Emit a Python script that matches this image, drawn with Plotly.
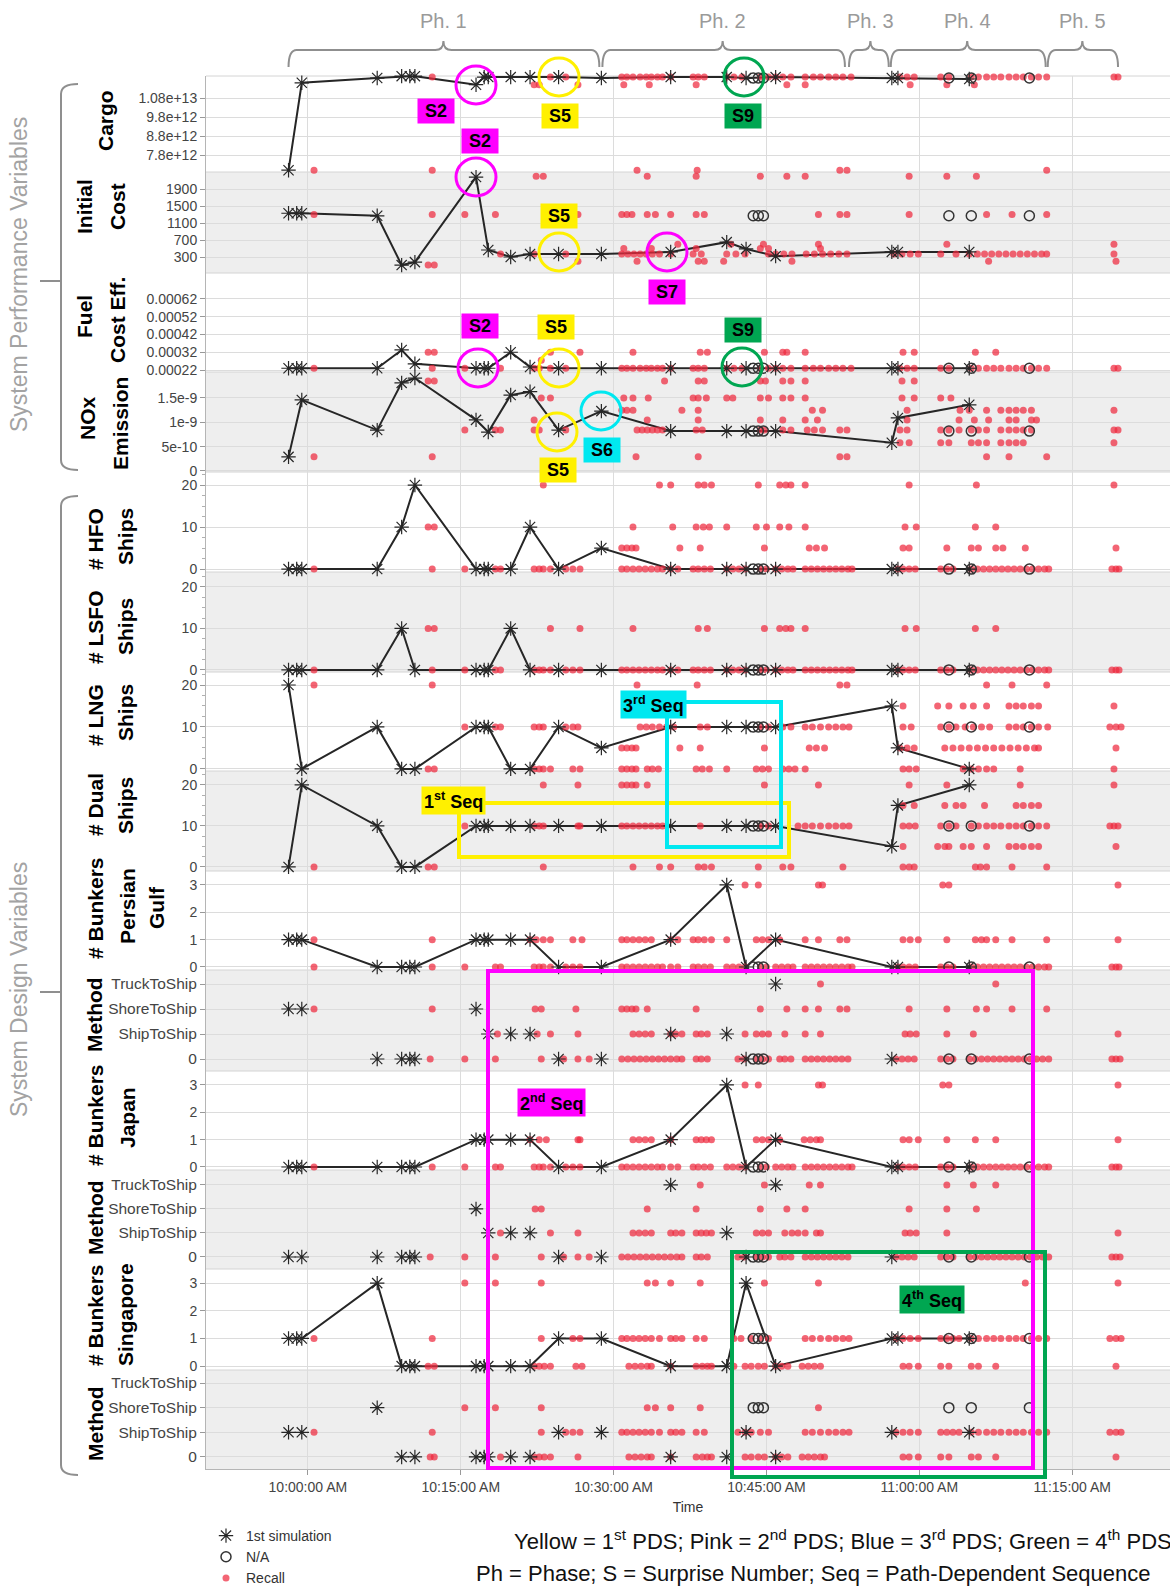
import plotly.graph_objects as go
from plotly.subplots import make_subplots

# ---------------------------------------------------------------------------
# Time axis: minutes after 10:00:00 AM
# ---------------------------------------------------------------------------
TIME_TICKS = [0, 15, 30, 45, 60, 75]
TIME_LABELS = ["10:00:00 AM", "10:15:00 AM", "10:30:00 AM",
               "10:45:00 AM", "11:00:00 AM", "11:15:00 AM"]
TIME_RANGE = [-10.0, 84.6]

# Session phases (braces along the top)
PHASE_NAMES = ["Ph. 1", "Ph. 2", "Ph. 3", "Ph. 4", "Ph. 5"]
PHASE_START = [-1.9, 28.9, 53.1, 57.2, 72.6]
PHASE_END = [28.6, 52.7, 57.0, 72.4, 79.5]
PHASE_MID = [13.3, 40.7, 55.2, 64.7, 76.0]

# ---------------------------------------------------------------------------
# 1st simulation: evaluation times and value of each variable
# ---------------------------------------------------------------------------
SIM_T = [-1.9, -1.1, -0.6, 6.8, 9.2, 10.0, 10.5, 16.5, 17.3, 17.7, 19.9,
         21.8, 24.6, 28.8, 35.6, 41.1, 43.0, 45.9, 57.3, 57.9, 64.9]

cargo_sim = [7.0, None, 11.6, 11.85, 11.95, 11.95, 11.95, 11.5, 11.9, 11.9, 11.9,
             11.9, 11.9, 11.85, 11.9, 11.9, 11.85, 11.9, 11.85, 11.85, 11.8]      # x 1e12
cost_sim = [1330, 1330, 1330, 1270, 110, None, 180, 2180, None, 465, 300,
            370, 370, 370, 420, 650, 490, 320, 420, 420, 420]
fuel_sim = [2.3, 2.3, 2.3, 2.3, 3.33, None, 2.55, 2.3, 2.3, 2.3, 3.2,
            2.37, 2.3, 2.3, 2.3, 2.3, 2.3, 2.3, 2.3, 2.3, 2.3]                   # x 1e-4
nox_sim = [0.29, None, 1.46, 0.84, 1.81, None, 1.91, 1.05, None, 0.80, 1.56,
           1.63, 0.84, 1.23, 0.82, 0.82, 0.82, 0.82, 0.58, 1.09, 1.36]          # x 1e-9
hfo_sim = [0, 0, 0, 0, 10, None, 20, 0, 0, 0, 0, 10, 0, 5, 0, 0, 0, 0, 0, 0, 0]
lsfo_sim = [0, 0, 0, 0, 10, None, 0, 0, 0, 0, 10, 0, 0, 0, 0, 0, 0, 0, 0, 0, 0]
lng_sim = [20, None, 0, 10, 0, None, 0, 10, 10, 10, 0, 0, 10, 5, 10, 10, 10, 10, 15, 5, 0]
dual_sim = [0, None, 20, 10, 0, None, 0, 10, 10, 10, 10, 10, 10, 10, 10, 10, 10, 10, 5, 15, 20]
pg_sim = [1, 1, 1, 0, 0, 0, 0, 1, 1, 1, 1, 1, 0, 0, 1, 3, 0, 1, 0, 0, 0]
pg_method_sim = [2, None, 2, 0, 0, 0, 0, 2, None, 1, 1, 1, 0, 0, 1, 1, 0, 3, 0, None, None]
jp_sim = [0, 0, 0, 0, 0, 0, 0, 1, 1, 1, 1, 1, 0, 0, 1, 3, 0, 1, 0, 0, 0]
jp_method_sim = [0, None, 0, 0, 0, 0, 0, 2, None, 1, 1, 1, 0, 0, 3, 1, 0, 3, 0, None, None]
sg_sim = [1, 1, 1, 3, 0, 0, 0, 0, 0, 0, 0, 0, 1, 1, 0, 0, 3, 0, 1, 1, 1]
sg_method_sim = [1, None, 1, 2, 0, None, 0, 0, 0, 0, 0, 0, 1, 1, 0, 0, 1, 0, 1, None, 1]

# Method codes: 0 = none, 1 = ShipToShip, 2 = ShoreToShip, 3 = TruckToShip
METHOD_LABELS = ["0", "ShipToShip", "ShoreToShip", "TruckToShip"]

# ---------------------------------------------------------------------------
# N/A evaluations
# ---------------------------------------------------------------------------
NA_T = [43.7, 44.2, 44.7, 62.9, 65.1, 70.8]
cargo_na = [11.85, 11.85, 11.85, 11.85, 11.85, 11.85]
cost_na = [1270, 1270, 1270, 1270, 1270, 1270]
fuel_na = [2.3, 2.3, 2.3, 2.3, 2.3, 2.3]
nox_na = [0.82, 0.82, 0.82, 0.82, 0.82, 0.82]
hfo_na = [0, 0, 0, 0, 0, 0]
lsfo_na = [0, 0, 0, 0, 0, 0]
lng_na = [10, 10, 10, 10, 10, 10]
dual_na = [10, 10, 10, 10, 10, 10]
pg_na = [0, 0, 0, 0, 0, 0]
pg_method_na = [0, 0, 0, 0, 0, 0]
jp_na = [0, 0, 0, 0, 0, 0]
jp_method_na = [0, 0, 0, 0, 0, 0]
sg_na = [1, 1, 1, 1, 1, 1]
sg_method_na = [2, 2, 2, 2, 2, 2]

# ---------------------------------------------------------------------------
# Recall: times (minutes) grouped by recalled value
# ---------------------------------------------------------------------------
RECALL_BASE = [0.6, 12.2, 15.4, 18.4, 18.9, 22.2, 22.7, 23.1, 23.8, 25.3, 26.0, 26.7,
               30.8, 31.3, 31.9, 32.5, 33.1, 33.7, 34.3, 34.8, 35.6, 36.3, 37.8, 38.3,
               38.9, 39.5, 41.1, 41.7, 42.3, 42.9, 44.4, 45.0, 45.9, 46.5, 47.1, 47.6,
               48.8, 49.4, 50.0, 50.6, 51.2, 51.8, 52.4, 53.0, 53.4, 57.9, 58.4, 59.0,
               59.6, 62.1, 62.7, 63.3, 65.1, 65.7, 66.3, 66.9, 67.5, 68.1, 68.7, 69.3,
               69.9, 70.5, 71.1, 71.7, 72.3, 72.7, 78.9, 79.3, 79.6]
RECALL_TOP = [12.2, 23.8, 25.3, 30.8, 31.3, 31.9, 32.6, 33.2, 33.7, 34.3, 34.8, 35.6,
              37.8, 38.3, 38.9, 41.1, 41.8, 42.6, 44.4, 45.2, 45.9, 46.6, 47.4, 48.8,
              49.6, 50.3, 51.1, 51.8, 52.5, 53.3, 58.1, 58.8, 59.5, 62.1, 62.9, 65.1,
              65.8, 66.6, 67.3, 68.0, 68.8, 69.5, 70.2, 71.0, 71.7, 72.5, 79.1, 79.5]
METHOD_BASE = [12.0, 15.4, 18.4, 22.9, 25.1, 26.5, 27.6, 30.8, 31.4, 32.0, 32.6, 33.2,
               33.8, 34.4, 35.0, 35.6, 36.2, 36.7, 38.1, 38.6, 39.2, 42.2, 42.8, 44.0,
               44.6, 45.2, 46.3, 46.8, 47.4, 48.8, 49.4, 50.0, 50.6, 51.2, 51.8, 52.4,
               53.0, 57.7, 58.3, 58.9, 59.5, 62.1, 62.7, 63.3, 64.9, 65.5, 66.1, 66.7,
               67.3, 67.9, 68.5, 69.1, 69.7, 70.3, 70.9, 71.5, 72.1, 72.7, 78.9, 79.3, 79.7]

cargo_recall = {
    11.9: RECALL_TOP,
    11.5: [22.2, 22.7, 26.5, 31.0, 33.5, 38.1, 47.0, 48.8, 59.1, 62.7, 65.4],
    7.0: [0.6, 12.2, 32.3, 38.2, 52.2, 52.9, 72.5],
}
cost_recall = {
    2200: [22.4, 23.1, 33.3, 38.1, 44.4, 47.0, 48.8, 59.0, 62.7, 65.6],
    1300: [0.6, 12.2, 15.4, 18.4, 26.5, 30.8, 31.3, 31.8, 33.3, 34.1, 35.6, 38.1, 38.9,
           50.1, 52.2, 52.9, 59.0, 66.6, 69.1, 72.5],
    600: [36.3, 41.5, 44.7, 50.1, 62.7, 79.1],
    500: [31.0, 33.7, 38.1, 44.4, 45.2, 50.3],
    370: [18.9, 22.2, 25.3, 30.8, 31.4, 32.0, 32.6, 33.2, 33.8, 34.5, 35.6, 37.8, 38.6,
          41.1, 42.0, 42.9, 45.2, 45.9, 46.7, 47.5, 48.9, 49.7, 50.5, 51.3, 52.1, 52.9,
          57.5, 58.3, 59.1, 59.9, 62.1, 63.6, 64.9, 65.7, 66.4, 67.1, 67.8, 68.5, 69.2,
          69.9, 70.6, 71.3, 72.0, 72.5, 79.1],
    200: [26.5, 32.3, 38.3, 38.9, 40.8, 47.5, 66.8, 79.3],
    110: [11.8, 12.4],
}
fuel_recall = {
    3.2: [11.8, 12.4, 23.8, 26.7, 31.9, 38.5, 39.2, 44.8, 46.6, 47.0, 48.8, 58.4, 59.5,
          65.5, 67.5],
    2.75: [22.9],
    2.3: [0.6, 15.4, 18.9, 22.2, 22.7] + RECALL_TOP,
}
nox_recall = {
    1.85: [11.8, 12.4, 35.0, 38.3, 38.9, 44.4, 44.9, 46.6, 47.4, 48.8, 58.3, 59.5],
    1.5: [22.9, 23.8, 31.0, 31.9, 33.4, 37.8, 38.3, 39.1, 41.1, 41.7, 44.4, 45.2, 46.6,
          47.4, 48.8, 58.3, 59.5, 62.1, 63.1],
    1.25: [30.8, 31.3, 31.9, 36.7, 38.3, 49.5, 50.5, 58.8, 64.0, 64.9, 66.6, 68.0, 68.8,
           69.5, 70.2, 71.0, 79.1],
    1.05: [22.2, 33.3, 38.3, 44.4, 46.6, 48.8, 50.0, 58.8, 63.9, 65.4, 66.8, 68.8, 69.5,
           71.0, 71.5],
    0.84: [15.4, 18.4, 18.9, 22.2, 22.7, 25.3, 32.3, 32.8, 33.3, 33.8, 34.3, 34.8, 38.1,
           38.7, 44.4, 44.8, 46.6, 47.4, 49.0, 49.7, 50.5, 52.2, 52.9, 58.1, 58.8, 62.1,
           62.9, 63.9, 65.1, 65.8, 66.6, 68.0, 68.8, 69.5, 70.2, 71.0, 79.1, 79.5],
    0.58: [58.1, 59.0, 62.1, 62.9, 65.1, 65.8, 66.6, 68.0, 68.8, 69.5, 70.2, 79.1],
    0.29: [0.6, 12.2, 32.2, 38.3, 52.2, 52.9, 66.6, 68.8, 72.5],
}
hfo_recall = {
    20: [23.1, 34.5, 35.6, 38.3, 38.9, 39.6, 44.2, 46.3, 46.9, 47.4, 48.8, 59.0, 65.6, 79.1],
    10: [11.8, 12.4, 31.9, 35.8, 38.1, 38.8, 39.4, 41.1, 44.0, 45.0, 46.3, 47.2, 48.8,
         58.6, 59.7, 65.5, 67.5],
    5: [30.8, 31.3, 31.8, 32.2, 36.5, 38.5, 44.8, 49.2, 49.9, 50.7, 58.4, 59.0, 62.7,
        65.1, 65.8, 67.5, 68.2, 70.4, 79.3],
    0: RECALL_BASE,
}
lsfo_recall = {
    10: [11.8, 12.4, 23.8, 26.7, 31.9, 38.3, 39.2, 44.8, 46.3, 46.9, 47.4, 48.8, 58.6,
         59.7, 65.5, 67.5],
    0: RECALL_BASE,
}
lng_recall = {
    20: [0.6, 12.2, 32.3, 38.2, 52.2, 52.9, 66.6, 69.1, 72.5],
    15: [58.4, 61.8, 62.9, 64.3, 65.3, 66.6, 68.8, 69.5, 70.2, 71.0, 71.7, 79.1],
    10: [15.4, 18.4, 18.9, 22.2, 22.7, 23.1, 25.3, 26.0, 26.5, 32.6, 33.2, 33.8, 34.5,
         35.2, 35.9, 38.5, 39.2, 44.4, 45.2, 46.6, 47.4, 48.8, 49.5, 50.3, 51.1, 51.8,
         52.5, 53.1, 58.4, 59.2, 62.1, 62.9, 63.6, 64.5, 65.3, 66.1, 66.9, 68.8, 69.5,
         70.2, 71.0, 71.7, 72.6, 78.7, 79.3, 79.8],
    5: [30.8, 31.3, 31.8, 32.2, 36.5, 38.5, 44.8, 49.2, 49.9, 50.7, 58.1, 58.8, 59.5,
        62.5, 63.3, 64.1, 64.9, 65.7, 66.5, 67.3, 68.1, 68.9, 69.7, 70.5, 71.3, 71.7, 79.3],
    0: [11.8, 12.4, 22.2, 22.7, 23.1, 23.8, 26.0, 26.7, 30.8, 31.3, 31.8, 32.2, 33.3,
        33.8, 34.4, 38.1, 38.7, 39.4, 41.1, 44.0, 44.6, 45.2, 46.6, 47.2, 47.8, 48.8,
        58.4, 59.0, 59.7, 64.3, 65.1, 65.8, 66.6, 67.3, 69.9, 79.1],
}
dual_recall = {
    20: [23.1, 26.5, 30.8, 31.3, 31.8, 32.2, 33.3, 44.8, 50.1, 59.0, 62.7, 69.9, 79.1],
    15: [58.4, 59.5, 62.5, 63.6, 64.3, 66.4, 69.5, 70.2, 71.0, 71.7],
    10: [15.4, 22.2, 22.7, 23.1, 26.5, 26.7, 30.8, 31.3, 31.9, 32.5, 33.1, 33.7, 34.3,
         34.8, 38.5, 44.4, 45.2, 48.1, 48.8, 49.5, 50.3, 51.1, 51.8, 52.5, 53.1, 58.4,
         59.0, 59.6, 62.1, 62.9, 63.6, 65.1, 65.8, 66.6, 67.3, 68.0, 68.8, 69.5, 70.2,
         71.0, 71.7, 72.5, 78.7, 79.1, 79.5],
    5: [58.4, 61.8, 62.5, 62.9, 64.3, 65.1, 66.6, 68.8, 69.5, 70.2, 71.0, 71.7, 79.3],
    0: [0.6, 11.8, 12.4, 23.1, 31.9, 34.5, 35.6, 38.3, 38.9, 39.6, 44.2, 46.6, 47.4,
        52.5, 58.4, 59.0, 59.5, 65.5, 66.0, 66.6, 69.1, 72.5],
}
pg_recall = {
    3: [42.9, 44.2, 50.1, 50.5, 62.3, 62.9, 79.5],
    1: [0.6, 12.2, 21.8, 22.4, 23.1, 23.8, 26.0, 26.9, 30.8, 31.3, 31.9, 32.5, 33.1,
        33.7, 35.6, 36.3, 37.8, 38.3, 38.9, 39.6, 41.1, 44.0, 44.6, 45.2, 46.3, 48.8,
        50.1, 52.2, 52.9, 58.4, 59.1, 59.9, 62.7, 65.5, 66.1, 66.6, 67.5, 69.1, 72.5, 79.5],
    0: RECALL_BASE,
}
pg_method_recall = {
    3: [50.3, 67.5],
    2: [0.6, 12.2, 22.3, 22.9, 26.3, 30.8, 31.3, 31.8, 32.2, 33.3, 38.1, 44.4, 47.0,
        48.8, 50.1, 52.2, 52.9, 59.0, 62.7, 65.6, 66.6, 69.1, 72.5],
    1: [18.6, 22.5, 23.8, 26.5, 31.9, 32.5, 33.1, 33.7, 35.6, 36.1, 36.7, 38.1, 38.6,
        39.2, 42.9, 44.0, 44.6, 45.2, 46.8, 48.8, 50.3, 58.6, 59.1, 59.7, 62.7, 65.3, 79.5],
    0: METHOD_BASE,
}
jp_recall = {
    3: [42.9, 44.2, 50.1, 50.5, 62.3, 62.9, 79.5],
    1: [21.8, 22.7, 23.4, 26.5, 26.7, 31.9, 32.5, 33.1, 33.7, 35.6, 38.1, 38.6, 39.1,
        39.6, 44.0, 44.6, 45.2, 46.3, 48.7, 49.3, 49.9, 50.3, 58.4, 59.0, 59.9, 62.7,
        65.5, 67.5, 79.5],
    0: RECALL_BASE,
}
jp_method_recall = {
    3: [38.5, 44.8, 49.2, 50.3, 62.7, 65.3, 67.5],
    2: [22.3, 22.9, 33.3, 38.1, 44.4, 47.0, 48.8, 59.0, 62.7, 65.6],
    1: [18.9, 23.8, 26.5, 31.9, 32.5, 33.1, 33.7, 35.6, 36.1, 36.7, 38.1, 38.6, 39.1,
        39.6, 44.0, 44.6, 45.2, 46.8, 47.5, 48.1, 48.8, 49.9, 50.3, 58.6, 59.1, 59.7,
        62.7, 79.5],
    0: METHOD_BASE,
}
sg_recall = {
    3: [15.4, 18.4, 22.9, 33.3, 34.1, 35.6, 38.5, 44.8, 50.1, 70.4, 79.5],
    1: [0.6, 12.2, 22.9, 26.0, 26.7, 30.8, 31.3, 31.9, 32.5, 33.1, 33.7, 34.5, 35.6,
        36.1, 36.7, 38.1, 38.9, 41.8, 42.5, 43.5, 44.4, 45.2, 48.8, 49.5, 50.3, 51.1,
        51.8, 52.5, 53.1, 57.7, 58.4, 59.1, 59.9, 62.1, 62.7, 63.3, 63.9, 65.1, 65.8,
        66.6, 67.3, 68.0, 68.8, 69.5, 70.2, 71.0, 71.7, 72.5, 78.7, 79.3, 79.8],
    0: [11.8, 12.4, 22.2, 22.7, 23.2, 23.8, 26.3, 26.9, 31.5, 32.1, 32.7, 33.3, 33.7,
        35.6, 38.1, 38.7, 39.2, 39.6, 41.8, 42.9, 43.5, 44.2, 44.8, 45.9, 46.5, 47.1,
        48.5, 49.1, 49.7, 50.3, 58.4, 59.0, 59.9, 62.1, 62.9, 65.1, 65.8, 67.5, 79.3],
}
sg_method_recall = {
    2: [15.4, 18.4, 22.9, 33.3, 34.1, 35.6, 38.5, 50.1],
    1: [0.6, 12.2, 22.9, 25.3, 26.0, 26.7, 30.8, 31.3, 31.9, 32.5, 33.1, 33.7, 34.5,
        35.6, 36.1, 36.7, 38.1, 38.9, 42.2, 42.9, 43.5, 44.4, 45.2, 48.8, 49.5, 50.3,
        51.1, 51.8, 52.5, 53.1, 57.7, 58.4, 59.1, 59.9, 62.1, 62.7, 63.3, 63.9, 65.1,
        65.8, 66.6, 67.3, 68.0, 68.8, 69.5, 70.2, 71.0, 71.7, 72.5, 78.7, 79.3, 79.8],
    0: [12.0, 12.4, 18.9, 22.2, 22.7, 23.2, 23.8, 26.5, 31.5, 32.1, 32.7, 33.3, 33.7,
        35.6, 38.1, 38.7, 39.2, 39.6, 42.9, 43.5, 44.2, 44.8, 45.9, 46.5, 47.1, 48.5,
        49.1, 49.7, 50.3, 50.7, 58.4, 59.0, 59.9, 62.1, 62.9, 65.1, 65.8, 67.5, 79.3],
}

# ---------------------------------------------------------------------------
# Page geometry (pixels) and helpers to place decorations in paper space
# ---------------------------------------------------------------------------
W, H = 1170, 1589
ML, MR, MT, MB = 206, 0, 76, 120
ROW_EDGES = [76, 172, 273, 372, 472, 572, 672, 771, 871, 970, 1071, 1170, 1269, 1370, 1469]


def px(x):
    return (x - ML) / (W - ML - MR)


def py(y):
    return (H - MB - y) / (H - MT - MB)


FONT = "Liberation Sans"
TICK_FONT = dict(family=FONT, size=14, color="#444444")
METHOD_TICK_FONT = dict(family=FONT, size=15.5, color="#444444")
RED = "rgba(238, 42, 62, 0.72)"
INK = "#262626"
GRAY_BAND = "#eeeeee"
GRID = "#dcdcdc"

SHIP_TICKS = [0, 10, 20]
BUNKER_TICKS = [0, 1, 2, 3]
METHOD_TICKS = [0, 1, 2, 3]

PANELS = [
    dict(sim=cargo_sim, rec=cargo_recall, na=cargo_na, rng=[6.905, 11.958],
         tv=[7.8, 8.8, 9.8, 10.8], tt=["7.8e+12", "8.8e+12", "9.8e+12", "1.08e+13"],
         shade=False, line=True, minor=None),
    dict(sim=cost_sim, rec=cost_recall, na=cost_na, rng=[-76, 2300],
         tv=[300, 700, 1100, 1500, 1900], tt=["300", "700", "1100", "1500", "1900"],
         shade=True, line=True, minor=None),
    dict(sim=fuel_sim, rec=fuel_recall, na=fuel_na, rng=[2.09, 7.66],
         tv=[2.2, 3.2, 4.2, 5.2, 6.2],
         tt=["0.00022", "0.00032", "0.00042", "0.00052", "0.00062"],
         shade=False, line=True, minor=None),
    dict(sim=nox_sim, rec=nox_recall, na=nox_na, rng=[-0.021, 2.034],
         tv=[0, 0.5, 1.0, 1.5], tt=["0", "5e-10", "1e-9", "1.5e-9"],
         shade=True, line=True, minor=None),
    dict(sim=hfo_sim, rec=hfo_recall, na=hfo_na, rng=[-0.7, 23.1],
         tv=SHIP_TICKS, tt=[str(v) for v in SHIP_TICKS], shade=False, line=True, minor=2.5),
    dict(sim=lsfo_sim, rec=lsfo_recall, na=lsfo_na, rng=[-0.5, 23.6],
         tv=SHIP_TICKS, tt=[str(v) for v in SHIP_TICKS], shade=True, line=True, minor=2.5),
    dict(sim=lng_sim, rec=lng_recall, na=lng_na, rng=[-0.5, 23.1],
         tv=SHIP_TICKS, tt=[str(v) for v in SHIP_TICKS], shade=False, line=True, minor=2.5),
    dict(sim=dual_sim, rec=dual_recall, na=dual_na, rng=[-1.0, 23.4],
         tv=SHIP_TICKS, tt=[str(v) for v in SHIP_TICKS], shade=True, line=True, minor=2.5),
    dict(sim=pg_sim, rec=pg_recall, na=pg_na, rng=[-0.11, 3.51],
         tv=BUNKER_TICKS, tt=[str(v) for v in BUNKER_TICKS], shade=False, line=True, minor=None),
    dict(sim=pg_method_sim, rec=pg_method_recall, na=pg_method_na, rng=[-0.48, 3.56],
         tv=METHOD_TICKS, tt=METHOD_LABELS, shade=True, line=False, minor=None),
    dict(sim=jp_sim, rec=jp_recall, na=jp_na, rng=[-0.11, 3.51],
         tv=BUNKER_TICKS, tt=[str(v) for v in BUNKER_TICKS], shade=False, line=True, minor=None),
    dict(sim=jp_method_sim, rec=jp_method_recall, na=jp_method_na, rng=[-0.5, 3.62],
         tv=METHOD_TICKS, tt=METHOD_LABELS, shade=True, line=False, minor=None),
    dict(sim=sg_sim, rec=sg_recall, na=sg_na, rng=[-0.14, 3.51],
         tv=BUNKER_TICKS, tt=[str(v) for v in BUNKER_TICKS], shade=False, line=True, minor=None),
    dict(sim=sg_method_sim, rec=sg_method_recall, na=sg_method_na, rng=[-0.49, 3.53],
         tv=METHOD_TICKS, tt=METHOD_LABELS, shade=True, line=False, minor=None),
]

# Rotated panel titles: (text, x centre px, y centre px)
PANEL_TITLES = [
    ("Cargo", 105, 121),
    ("Initial", 84, 207), ("Cost", 117, 207),
    ("Fuel", 85, 317), ("Cost Eff.", 118, 320),
    ("NOx", 87, 418), ("Emission", 120, 424),
    ("# HFO", 95, 539), ("Ships", 125, 537),
    ("# LSFO", 95, 627), ("Ships", 125, 627),
    ("# LNG", 95, 715), ("Ships", 125, 713),
    ("# Dual", 95, 805), ("Ships", 125, 806),
    ("# Bunkers", 95, 908), ("Persian", 127, 906), ("Gulf", 156, 908),
    ("Method", 95, 1015),
    ("# Bunkers", 95, 1115), ("Japan", 127, 1118),
    ("Method", 95, 1218),
    ("# Bunkers", 95, 1315), ("Singapore", 125, 1315),
    ("Method", 95, 1424),
]

row_heights = [ROW_EDGES[i + 1] - ROW_EDGES[i] for i in range(len(ROW_EDGES) - 1)]
fig = make_subplots(rows=14, cols=1, shared_xaxes=True, vertical_spacing=0,
                    row_heights=row_heights)

for i, p in enumerate(PANELS):
    r = i + 1
    if p["line"]:
        fig.add_trace(go.Scatter(x=SIM_T, y=p["sim"], mode="lines", connectgaps=True,
                                 line=dict(color=INK, width=2), showlegend=False,
                                 hoverinfo="skip"), row=r, col=1)
    rx, ry = [], []
    for val, times in p["rec"].items():
        rx += times
        ry += [val] * len(times)
    fig.add_trace(go.Scatter(x=rx, y=ry, mode="markers", cliponaxis=False,
                             marker=dict(size=7, color=RED, line=dict(width=0)),
                             showlegend=False), row=r, col=1)
    fig.add_trace(go.Scatter(x=SIM_T, y=p["sim"], mode="markers", cliponaxis=False,
                             marker=dict(symbol="asterisk-open", size=12, color=INK,
                                         line=dict(color=INK, width=1.2)),
                             showlegend=False), row=r, col=1)
    fig.add_trace(go.Scatter(x=NA_T, y=p["na"], mode="markers", cliponaxis=False,
                             marker=dict(symbol="circle-open", size=10, color="#333333",
                                         line=dict(color="#333333", width=1.5)),
                             showlegend=False), row=r, col=1)
    is_method = p["tt"] is METHOD_LABELS
    yax = dict(range=p["rng"], tickvals=p["tv"], ticktext=p["tt"],
               tickfont=METHOD_TICK_FONT if is_method else TICK_FONT,
               ticks="outside", ticklen=5, tickcolor="#999999", showgrid=True,
               gridcolor=GRID, gridwidth=1, zeroline=False, showline=True,
               linecolor="#b5b5b5", linewidth=1, fixedrange=True)
    if p["minor"]:
        yax["minor"] = dict(dtick=p["minor"], ticks="outside", ticklen=3,
                            tickcolor="#b0b0b0", showgrid=False)
    fig.update_yaxes(row=r, col=1, **yax)

fig.update_xaxes(range=TIME_RANGE, tickvals=TIME_TICKS, ticktext=TIME_LABELS,
                 showgrid=True, gridcolor=GRID, gridwidth=1, zeroline=False,
                 tickfont=TICK_FONT, fixedrange=True)
fig.update_xaxes(row=14, col=1, showline=True, linecolor="#b5b5b5", ticks="outside",
                 ticklen=5, tickcolor="#999999",
                 title=dict(text="Time", font=dict(family=FONT, size=14, color="#333333"),
                            standoff=8))

# Legend entries
fig.add_trace(go.Scatter(x=[None], y=[None], mode="markers", name="1st simulation",
                         marker=dict(symbol="asterisk-open", size=12, color=INK,
                                     line=dict(color=INK, width=1.2))), row=14, col=1)
fig.add_trace(go.Scatter(x=[None], y=[None], mode="markers", name="N/A",
                         marker=dict(symbol="circle-open", size=10, color="#333333",
                                     line=dict(color="#333333", width=1.5))), row=14, col=1)
fig.add_trace(go.Scatter(x=[None], y=[None], mode="markers", name="Recall",
                         marker=dict(size=7, color=RED)), row=14, col=1)

shapes = []
annotations = []

# Alternating panel shading and separators
for i, p in enumerate(PANELS):
    top, bot = ROW_EDGES[i], ROW_EDGES[i + 1]
    if p["shade"]:
        shapes.append(dict(type="rect", xref="paper", yref="paper", x0=0, x1=1,
                           y0=py(bot), y1=py(top), fillcolor=GRAY_BAND,
                           line=dict(width=0), layer="below"))
    shapes.append(dict(type="line", xref="paper", yref="paper", x0=0, x1=1,
                       y0=py(top), y1=py(top), line=dict(color="#d4d4d4", width=1),
                       layer="below"))

# Phase braces along the top
y_end, y_bar, y_tip = py(67), py(50), py(41)
for name, a, b, m in zip(PHASE_NAMES, PHASE_START, PHASE_END, PHASE_MID):
    d = 0.8
    path = (f"M {a},{y_end} Q {a},{y_bar} {a + d},{y_bar} L {m - d},{y_bar} "
            f"Q {m},{y_bar} {m},{y_tip} Q {m},{y_bar} {m + d},{y_bar} "
            f"L {b - d},{y_bar} Q {b},{y_bar} {b},{y_end}")
    shapes.append(dict(type="path", xref="x", yref="paper", path=path,
                       line=dict(color="#8f8f8f", width=2)))
    annotations.append(dict(x=m, xref="x", y=py(21), yref="paper", text=name,
                            showarrow=False, xanchor="center", yanchor="middle",
                            font=dict(family=FONT, size=20, color="#9a9a9a")))

# Left group brackets
for (top, mid, bot) in [(84, 281, 470), (496, 992, 1475)]:
    path = (f"M {px(78)},{py(top)} Q {px(61)},{py(top)} {px(61)},{py(top + 10)} "
            f"L {px(61)},{py(bot - 10)} Q {px(61)},{py(bot)} {px(78)},{py(bot)} "
            f"M {px(61)},{py(mid)} L {px(40)},{py(mid)}")
    shapes.append(dict(type="path", xref="paper", yref="paper", path=path,
                       line=dict(color="#8f8f8f", width=2)))

for text, cy in [("System Performance Variables", 275), ("System Design Variables", 990)]:
    annotations.append(dict(x=px(19), y=py(cy), xref="paper", yref="paper", text=text,
                            textangle=-90, showarrow=False, xanchor="center",
                            yanchor="middle",
                            font=dict(family=FONT, size=23, color="#a3a3a3")))

for text, cx, cy in PANEL_TITLES:
    annotations.append(dict(x=px(cx), y=py(cy), xref="paper", yref="paper",
                            text=f"<b>{text}</b>", textangle=-90, showarrow=False,
                            xanchor="center", yanchor="middle",
                            font=dict(family=FONT, size=21, color="#000000")))

# Highlight circles around surprises
YEL, MAG, GRN, CYA = "#FFF000", "#FF00FF", "#00A651", "#00E8F0"
CIRCLES = [(476, 85, MAG), (559, 77, YEL), (744, 77, GRN),
           (476, 177, MAG), (559, 252, YEL), (667, 252, MAG),
           (478, 368, MAG), (559, 368, YEL), (742, 367, GRN),
           (557, 432, YEL), (601, 411, CYA)]
for cx, cy, col in CIRCLES:
    shapes.append(dict(type="circle", xref="paper", yref="paper",
                       x0=px(cx - 20), x1=px(cx + 20), y0=py(cy + 19), y1=py(cy - 19),
                       line=dict(color=col, width=3)))

# Path-dependent sequence boxes
SEQ_BOXES = [(459, 803, 789, 857, YEL), (667, 702, 781, 847, CYA),
             (488, 971, 1033, 1468, MAG), (732, 1252, 1045, 1477, GRN)]
for x0, y0, x1, y1, col in SEQ_BOXES:
    shapes.append(dict(type="rect", xref="paper", yref="paper",
                       x0=px(x0), x1=px(x1), y0=py(y1), y1=py(y0),
                       line=dict(color=col, width=4)))

# Surprise labels
S_LABELS = [("S2", 436, 111, MAG), ("S5", 560, 116, YEL), ("S9", 743, 116, GRN),
            ("S2", 480, 141, MAG), ("S5", 559, 216, YEL), ("S7", 667, 292, MAG),
            ("S2", 480, 326, MAG), ("S5", 556, 327, YEL), ("S9", 743, 330, GRN),
            ("S6", 602, 450, CYA), ("S5", 558, 470, YEL)]
for text, cx, cy, col in S_LABELS:
    annotations.append(dict(x=px(cx), y=py(cy), xref="paper", yref="paper",
                            text=f"<b>{text}</b>", showarrow=False, xanchor="center",
                            yanchor="middle", bgcolor=col, width=34, height=22,
                            borderpad=1,
                            font=dict(family=FONT, size=18, color="#000000")))

SEQ_LABELS = [("1<sup>st</sup> Seq", 453, 800, YEL), ("3<sup>rd</sup> Seq", 653, 704, CYA),
              ("2<sup>nd</sup> Seq", 551, 1102, MAG), ("4<sup>th</sup> Seq", 932, 1299, GRN)]
for text, cx, cy, col in SEQ_LABELS:
    annotations.append(dict(x=px(cx), y=py(cy), xref="paper", yref="paper",
                            text=f"<b>{text}</b>", showarrow=False, xanchor="center",
                            yanchor="middle", bgcolor=col, borderpad=2,
                            font=dict(family=FONT, size=18, color="#000000")))

# Caption
annotations.append(dict(x=px(512), y=py(1540), xref="paper", yref="paper",
                        text="Yellow = 1<sup>st</sup> PDS; Pink = 2<sup>nd</sup> PDS; "
                             "Blue = 3<sup>rd</sup> PDS; Green = 4<sup>th</sup> PDS",
                        showarrow=False, xanchor="left", yanchor="middle",
                        font=dict(family=FONT, size=22, color="#111111")))
annotations.append(dict(x=px(474), y=py(1573), xref="paper", yref="paper",
                        text="Ph = Phase; S = Surprise Number; Seq = Path-Dependent Sequence",
                        showarrow=False, xanchor="left", yanchor="middle",
                        font=dict(family=FONT, size=22, color="#111111")))

fig.update_layout(
    width=W, height=H,
    margin=dict(l=ML, r=MR, t=MT, b=MB, autoexpand=False),
    paper_bgcolor="white", plot_bgcolor="rgba(0,0,0,0)",
    shapes=shapes, annotations=annotations,
    showlegend=True,
    legend=dict(x=px(206), y=py(1520), xref="paper", yref="paper",
                xanchor="left", yanchor="top", bgcolor="rgba(0,0,0,0)",
                font=dict(family=FONT, size=14, color="#333333"),
                tracegroupgap=0, itemwidth=30),
    font=dict(family=FONT),
)

fig.write_html("out.html")
